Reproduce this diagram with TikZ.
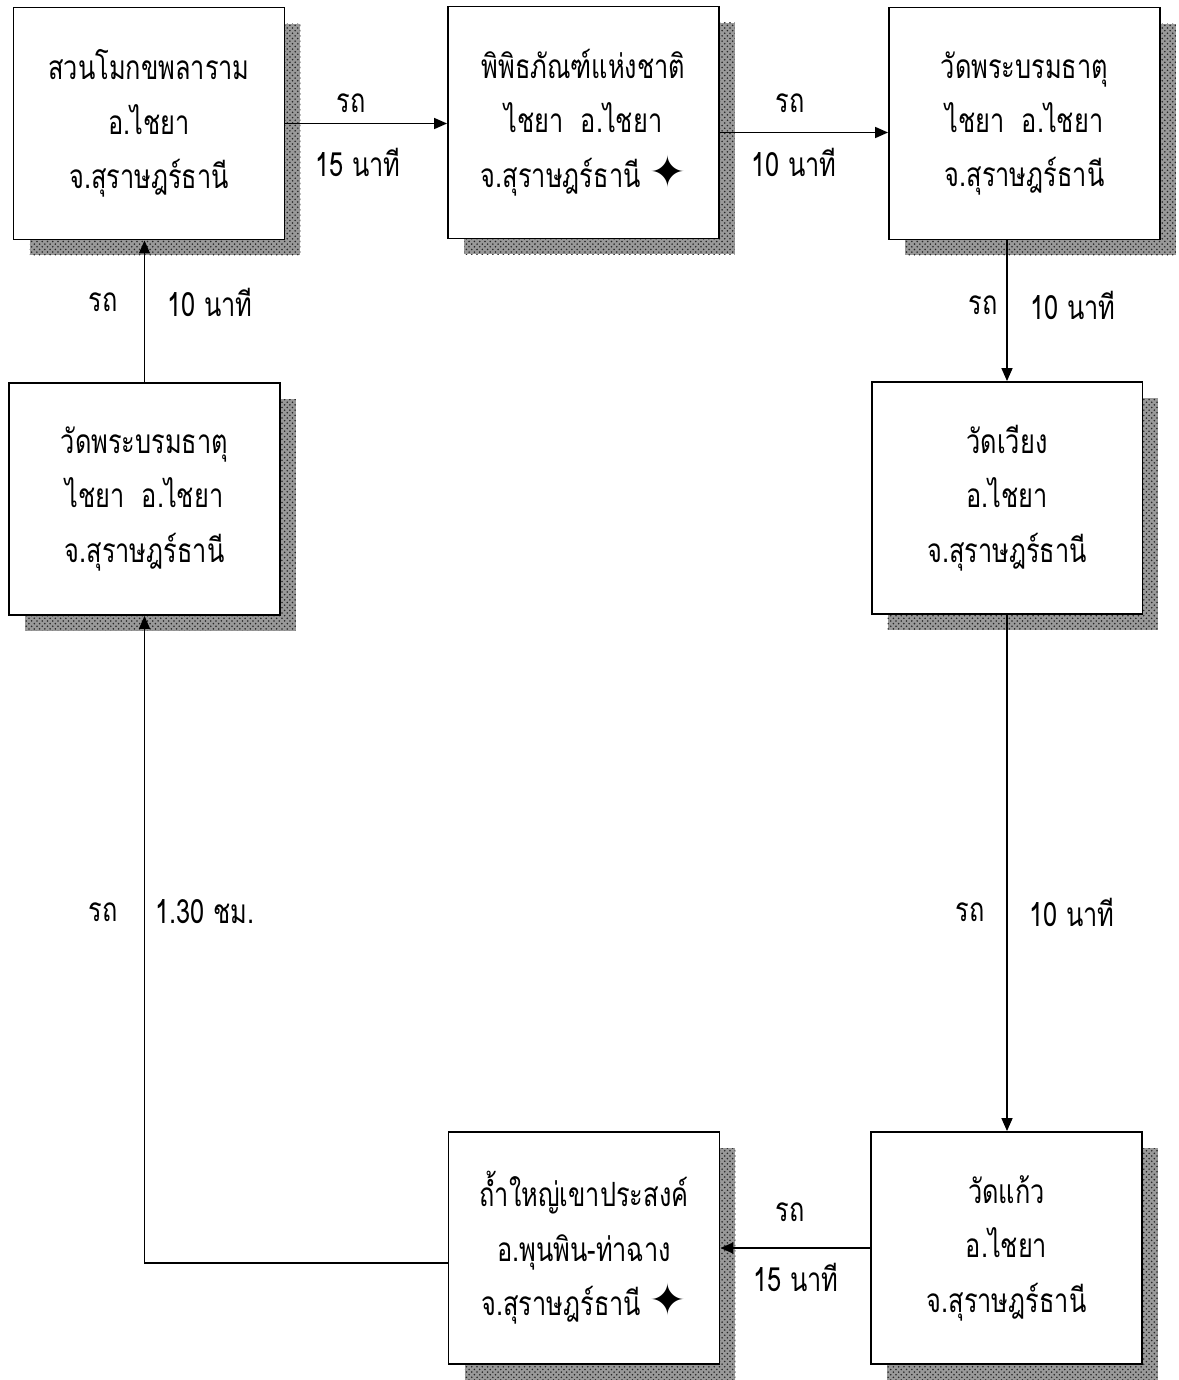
\documentclass[tikz,border=0pt]{standalone}
\usepackage{fontspec}
\newfontfamily\thaifont[Script=Thai,FakeStretch=0.76]{Loma}
\newfontfamily\symfont{DejaVu Sans}
\usetikzlibrary{arrows.meta,shadows,calc,patterns}
\tikzset{
  px/.style={x=0.02cm,y=-0.02cm},
  place/.style={draw=black, line width=1.1pt, fill=white, minimum width=5.42cm, minimum height=4.64cm,
    align=center, inner sep=0pt,
    font=\thaifont\fontsize{19}{31}\selectfont,
    drop shadow={shadow xshift=0.32cm, shadow yshift=-0.32cm, fill=black!40, opacity=1, draw=none,
      postaction={pattern=crosshatch dots, pattern color=black!85}}},
  arr/.style={line width=0.9pt, -{Triangle[length=0.26cm,width=0.22cm]}},
  lbl/.style={font=\thaifont\fontsize{19}{24}\selectfont, inner sep=0pt}
}
\newcommand{\starmark}{{\symfont\fontsize{25}{25}\selectfont ✦}}
\begin{document}
\begin{tikzpicture}[px]
\useasboundingbox (0,0) rectangle (1178,1380);
\node[place] (b1) at (149,123.5) {สวนโมกขพลาราม\\อ.ไชยา\\จ.สุราษฎร์ธานี};
\node[place] (b2) at (583.5,122.5) {พิพิธภัณฑ์แห่งชาติ\\ไชยา~~อ.ไชยา\\จ.สุราษฎร์ธานี \starmark};
\node[place] (b3) at (1024.5,123.5) {วัดพระบรมธาตุ\\ไชยา~~อ.ไชยา\\จ.สุราษฎร์ธานี};
\node[place] (b4) at (1007,498) {วัดเวียง\\อ.ไชยา\\จ.สุราษฎร์ธานี};
\node[place] (b5) at (1006.5,1248) {วัดแก้ว\\อ.ไชยา\\จ.สุราษฎร์ธานี};
\node[place] (b6) at (584,1248) {ถ้ำใหญ่เขาประสงค์\\อ.พุนพิน-ท่าฉาง\\จ.สุราษฎร์ธานี \starmark};
\node[place] (b7) at (144.5,499) {วัดพระบรมธาตุ\\ไชยา~~อ.ไชยา\\จ.สุราษฎร์ธานี};

\draw[arr] (b1.east) -- (b1.east -| b2.west);
\draw[arr] ([yshift=-0.2cm]b2.east) -- ([yshift=-0.2cm]b2.east -| b3.west);
\draw[arr] (b4.north |- b3.south) -- (b4.north);
\draw[arr] (b4.south) -- (b4.south |- b5.north);
\draw[arr] (b5.west) -- (b5.west -| b6.east);
\draw[arr] ([yshift=-0.3cm]b6.west) -| (b7.south);
\draw[arr] (b7.north) -- (b7.north |- b1.south);

\node[lbl] (l1a) at (351,103) {รถ};
\node[lbl] (l1b) at (358,162) {15 นาที};
\node[lbl] (l2a) at (790,103) {รถ};
\node[lbl] (l2b) at (794,162) {10 นาที};
\node[lbl] (l3a) at (983,305) {รถ};
\node[lbl] (l3b) at (1073,305) {10 นาที};
\node[lbl] (l4a) at (970,912) {รถ};
\node[lbl] (l4b) at (1072,912) {10 นาที};
\node[lbl] (l5a) at (790,1212) {รถ};
\node[lbl] (l5b) at (796,1277) {15 นาที};
\node[lbl] (l6a) at (103,912) {รถ};
\node[lbl] (l6b) at (205,912) {1.30 ชม.};
\node[lbl] (l7a) at (103,302) {รถ};
\node[lbl] (l7b) at (210,302) {10 นาที};
\end{tikzpicture}
\end{document}
